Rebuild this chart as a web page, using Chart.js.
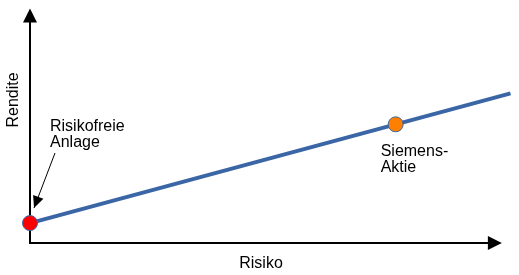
<!DOCTYPE html>
<html lang="de">
<head>
  <meta charset="UTF-8" />
  <title>Rendite und Risiko</title>
  <script src="https://cdn.jsdelivr.net/npm/chart.js"></script>
  <style>
    html, body { margin: 0; padding: 0; background: #fff; }
    #wrap { width: 519px; height: 275px; }
  </style>
</head>
<body>
  <div id="wrap"><canvas id="chart" width="519" height="275"></canvas></div>

  <script>
    // Kapitalmarktlinie (0..100 on both axes)
    const lineX = [0, 100];
    const lineY = [8.5, 63.8];

    // marked points
    const pointNames = ['Risikofreie Anlage', 'Siemens-Aktie'];
    const pointX = [0, 76.1];
    const pointY = [8.5, 50.6];
    const pointColors = ['#ff0000', '#ff8000'];

    const xTitle = 'Risiko';
    const yTitle = 'Rendite';
    const axisEnd = { x: 98.2, y: 100 };

    const FONT = '"Liberation Sans", Arial, sans-serif';

    // axes with arrow heads, titles and annotations
    const decor = {
      id: 'decor',
      beforeDatasetsDraw(chart) {
        const c = chart.ctx, xs = chart.scales.x, ys = chart.scales.y;
        const x0 = xs.getPixelForValue(0), y0 = ys.getPixelForValue(0);
        const xe = xs.getPixelForValue(axisEnd.x), ye = ys.getPixelForValue(axisEnd.y);
        c.save();
        c.strokeStyle = '#000';
        c.fillStyle = '#000';
        c.lineWidth = 2;
        c.beginPath();
        c.moveTo(x0, ye + 12);
        c.lineTo(x0, y0);
        c.lineTo(xe - 12, y0);
        c.stroke();
        c.beginPath();
        c.moveTo(x0, ye); c.lineTo(x0 - 7, ye + 14); c.lineTo(x0 + 7, ye + 14);
        c.closePath(); c.fill();
        c.beginPath();
        c.moveTo(xe, y0); c.lineTo(xe - 14, y0 - 7); c.lineTo(xe - 14, y0 + 7);
        c.closePath(); c.fill();
        c.restore();
      },
      afterDatasetsDraw(chart) {
        const c = chart.ctx, xs = chart.scales.x, ys = chart.scales.y;
        c.save();
        c.fillStyle = '#000';
        c.font = '16px ' + FONT;
        c.textAlign = 'center';
        c.textBaseline = 'alphabetic';
        c.fillText(xTitle, 261, 268);
        c.translate(18, 100);
        c.rotate(-Math.PI / 2);
        c.fillText(yTitle, 0, 0);
        c.restore();

        // annotation labels
        c.save();
        c.fillStyle = '#000';
        c.font = '16px ' + FONT;
        const px0 = xs.getPixelForValue(pointX[0]), py0 = ys.getPixelForValue(pointY[0]);
        const px1 = xs.getPixelForValue(pointX[1]), py1 = ys.getPixelForValue(pointY[1]);
        c.fillText('Risikofreie', px0 + 20, 131);
        c.fillText('Anlage', px0 + 20, 147);
        c.fillText('Siemens-', px1 - 15, 156);
        c.fillText('Aktie', px1 - 15, 172);

        // arrow to the risk-free point
        const sx = px0 + 25, sy = 153, tx = px0 + 4, ty = py0 - 15;
        c.strokeStyle = '#000';
        c.lineWidth = 1;
        c.beginPath(); c.moveTo(sx, sy); c.lineTo(tx, ty); c.stroke();
        const ang = Math.atan2(ty - sy, tx - sx);
        c.beginPath();
        c.moveTo(tx, ty);
        c.lineTo(tx - 12 * Math.cos(ang) + 5.5 * Math.sin(ang), ty - 12 * Math.sin(ang) - 5.5 * Math.cos(ang));
        c.lineTo(tx - 12 * Math.cos(ang) - 5.5 * Math.sin(ang), ty - 12 * Math.sin(ang) + 5.5 * Math.cos(ang));
        c.closePath(); c.fill();
        c.restore();
      }
    };

    new Chart(document.getElementById('chart'), {
      type: 'scatter',
      data: {
        datasets: [
          {
            label: 'Kapitalmarktlinie',
            data: lineX.map((x, i) => ({ x, y: lineY[i] })),
            showLine: true,
            borderColor: '#3a66a6',
            borderWidth: 4,
            pointRadius: 0,
            clip: false,
            order: 2
          },
          {
            label: 'Punkte',
            data: pointX.map((x, i) => ({ x, y: pointY[i] })),
            backgroundColor: pointColors,
            borderColor: '#3a66a6',
            borderWidth: 1,
            pointRadius: 7.5,
            clip: false,
            order: 1
          }
        ]
      },
      options: {
        responsive: false,
        animation: false,
        layout: { padding: { left: 30, right: 8, top: 8, bottom: 32 } },
        scales: {
          x: { type: 'linear', min: 0, max: 100, display: false },
          y: { type: 'linear', min: 0, max: 100, display: false }
        },
        plugins: {
          legend: { display: false },
          tooltip: { enabled: false }
        }
      },
      plugins: [decor]
    });
  </script>
</body>
</html>
